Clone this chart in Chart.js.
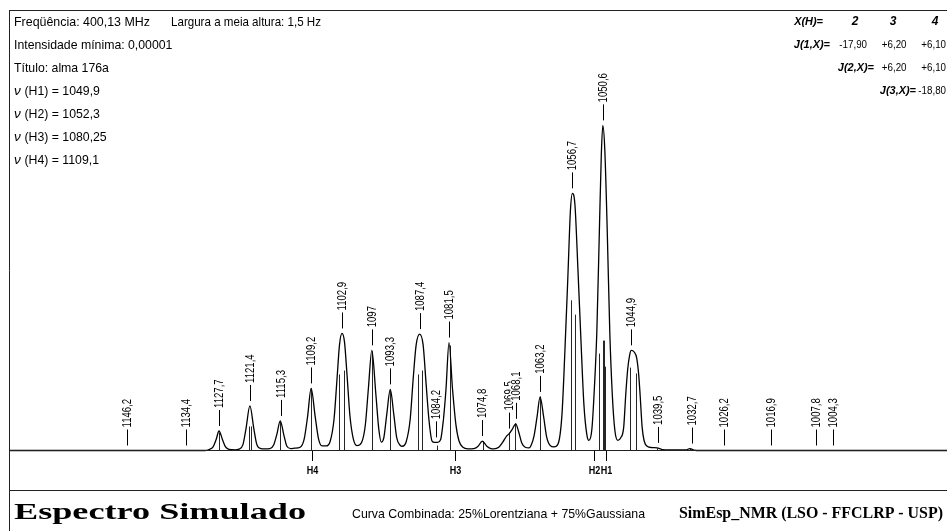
<!DOCTYPE html>
<html>
<head>
<meta charset="utf-8">
<script src="https://cdn.jsdelivr.net/npm/chart.js@4/dist/chart.umd.min.js"></script>
<style>
html, body { margin: 0; padding: 0; background: #fff; }
canvas { display: block; }
</style>
</head>
<body>
<canvas id="c" width="947" height="531"></canvas>
<script>
// simulated spectrum: frequency (Hz) / relative intensity (tallest = 100)
var curveHz = [1169.9, 1130.5, 1129.7, 1128.9, 1128.3, 1127.7, 1127.0, 1126.4, 1125.7, 1124.5,
  1123.7, 1122.9, 1122.3, 1121.5, 1120.7, 1120.1, 1119.3, 1118.5, 1117.5, 1116.7,
  1116.1, 1115.4, 1114.7, 1114.1, 1113.3, 1112.5, 1111.4, 1110.6, 1109.9, 1109.2,
  1108.4, 1107.7, 1107.0, 1106.2, 1105.4, 1104.6, 1104.0, 1103.5, 1103.0, 1102.5,
  1102.0, 1101.4, 1100.7, 1100.0, 1099.0, 1098.3, 1097.7, 1097.0, 1096.2, 1095.6,
  1095.1, 1094.6, 1094.0, 1093.3, 1092.6, 1092.0, 1091.3, 1090.9, 1090.1, 1089.3,
  1088.7, 1088.1, 1087.4, 1086.7, 1086.1, 1085.5, 1084.9, 1084.4, 1083.8, 1083.2,
  1082.6, 1082.1, 1081.5, 1080.8, 1080.1, 1079.5, 1078.7, 1077.7, 1076.5, 1075.7,
  1074.8, 1073.9, 1073.1, 1072.5, 1071.5, 1070.7, 1069.9, 1069.4, 1068.8, 1068.1,
  1067.5, 1066.9, 1066.2, 1065.4, 1065.0, 1064.4, 1063.8, 1063.2, 1062.5, 1061.9,
  1061.2, 1060.4, 1059.6, 1058.8, 1058.2, 1057.6, 1057.1, 1056.7, 1056.2, 1055.6,
  1055.0, 1054.4, 1053.8, 1053.4, 1052.8, 1052.3, 1051.8, 1051.3, 1050.9, 1050.6,
  1050.2, 1049.7, 1049.2, 1048.7, 1048.2, 1047.6, 1047.0, 1046.4, 1046.0, 1045.6,
  1045.2, 1044.9, 1044.3, 1043.8, 1043.4, 1043.1, 1042.7, 1042.3, 1041.7, 1040.7,
  1039.7, 1038.7, 1037.1, 1033.9, 1033.1, 1032.3, 1031.1, 981.45];
var curveInt = [0, 0, 0.3, 1.1, 3.3, 6.0, 3.3, 1.1, 0.35, 0.2,
  0.4, 1.8, 6.6, 13.7, 6.6, 1.8, 0.6, 0.5, 0.6, 1.8,
  4.9, 9.1, 4.9, 1.4, 0.6, 0.7, 1.0, 3.5, 10.6, 19.1,
  10.6, 3.5, 1.4, 1.4, 2.7, 9.6, 22.0, 32.5, 36.0, 33.4,
  23.5, 10.6, 3.4, 1.5, 2.7, 8.0, 19.0, 30.8, 17.4, 6.5,
  2.6, 3.9, 11.2, 18.8, 11.2, 3.9, 1.6, 1.3, 2.7, 9.6,
  22.0, 32.5, 35.8, 32.5, 20.5, 9.0, 2.9, 2.5, 2.5, 3.3,
  9.9, 19.0, 33.2, 19.0, 7.8, 3.0, 1.0, 0.5, 0.6, 1.2,
  2.9, 1.3, 0.6, 0.5, 1.0, 2.6, 4.5, 5.2, 6.5, 8.2,
  5.7, 2.4, 1.0, 0.8, 1.6, 4.6, 10.5, 16.5, 10.5, 4.3,
  1.6, 1.1, 2.0, 11.2, 31.2, 54.2, 74.0, 79.1, 75.6, 55.8,
  34.2, 14.2, 4.8, 3.1, 6.5, 19.0, 36.5, 67.0, 91.0, 100,
  92.5, 67.0, 36.5, 17.4, 6.5, 3.1, 3.9, 7.2, 17.0, 25.0,
  29.4, 30.8, 30.3, 28.5, 23.5, 17.0, 7.2, 3.0, 1.3, 0.9,
  0.8, 0.3, 0.15, 0.15, 0.6, 0.15, 0, 0];

// individual transitions (stick spectrum)
var stickHz = [1127.7, 1121.6, 1121.3, 1115.4, 1109.2, 1103.6, 1102.6, 1097.0, 1093.3, 1087.7,
  1086.9, 1084.0, 1081.4, 1074.7, 1069.4, 1068.2, 1063.2, 1056.9, 1056.2, 1051.4,
  1050.6, 1050.4, 1050.1, 1045.1, 1043.9, 1039.7, 1033.1];
var stickInt = [5.5, 7.4, 7.4, 8.9, 19.1, 23.4, 24.6, 30.5, 18.5, 23.4,
  24.6, 1.5, 32.3, 2.8, 5.5, 8.3, 16.6, 46.2, 41.8, 29.8,
  33.8, 33.8, 25.8, 25.5, 23.7, 0.6, 0.6];

// peak labels and the intensity they sit on
var labelHz = [1146.2, 1134.4, 1127.7, 1121.4, 1115.3, 1109.2, 1102.9, 1097, 1093.3, 1087.4,
  1084.2, 1081.5, 1074.8, 1069.5, 1068.1, 1063.2, 1056.7, 1050.6, 1044.9, 1039.5,
  1032.7, 1026.2, 1016.9, 1007.8, 1004.3];
var labelBase = [0, 0, 6.0, 13.7, 9.1, 19.1, 36.0, 30.8, 18.8, 35.8,
  2.5, 33.2, 2.9, 5.2, 8.2, 16.5, 79.1, 100, 30.8, 0.8,
  0.6, 0, 0, 0, 0];

// chemical shifts of the protons
var markText = ['H1', 'H2', 'H3', 'H4'];
var markHz = [1049.9, 1052.3, 1080.25, 1109.1];

// coupling constants table
var jHeader = ['2', '3', '4'];
var jRows = [['-17,90', '+6,20', '+6,10'], ['+6,20', '+6,10'], ['-18,80']];

var infoLines = ['Intensidade mínima: 0,00001', 'Título: alma 176a'];

var sans = '"Liberation Sans", Arial, sans-serif';
var serif = '"Liberation Serif", "Times New Roman", serif';

function comma(v) { return String(v).replace('.', ','); }

function txt(ctx, s, x, y, font, sx, align) {
  ctx.save();
  ctx.font = font;
  ctx.textAlign = align || 'left';
  ctx.textBaseline = 'alphabetic';
  ctx.translate(x, y);
  ctx.scale(sx, 1);
  ctx.fillText(s, 0, 0);
  ctx.restore();
}

function fitTxt(ctx, s, x, y, font, w) {
  ctx.save();
  ctx.font = font;
  var m = ctx.measureText(s).width;
  ctx.restore();
  txt(ctx, s, x, y, font, w / m);
}

var decor = {
  id: 'decor',
  afterDatasetsDraw: function(chart) {
    var ctx = chart.ctx;
    var xs = chart.scales.x, ys = chart.scales.y;
    var i, x, y;
    ctx.save();
    ctx.fillStyle = '#000';

    // sticks
    ctx.strokeStyle = 'rgba(0,0,0,0.85)';
    ctx.lineWidth = 1;
    for (i = 0; i < stickHz.length; i++) {
      x = Math.round(xs.getPixelForValue(stickHz[i])) + 0.5;
      ctx.beginPath();
      ctx.moveTo(x, ys.getPixelForValue(0));
      ctx.lineTo(x, ys.getPixelForValue(stickInt[i]));
      ctx.stroke();
    }

    // frame
    ctx.strokeStyle = '#222';
    ctx.beginPath();
    ctx.moveTo(9, 10.5); ctx.lineTo(947, 10.5);
    ctx.moveTo(9.5, 10); ctx.lineTo(9.5, 531);
    ctx.moveTo(9, 450.5); ctx.lineTo(947, 450.5);
    ctx.moveTo(9, 490.5); ctx.lineTo(947, 490.5);
    ctx.stroke();

    // peak labels
    var lf = '12px ' + sans;
    for (i = 0; i < labelHz.length; i++) {
      x = Math.round(xs.getPixelForValue(labelHz[i])) + 0.5;
      y = ys.getPixelForValue(labelBase[i]) - 5;
      ctx.strokeStyle = '#000';
      ctx.beginPath();
      ctx.moveTo(x, y); ctx.lineTo(x, y - 16);
      ctx.stroke();
      var s = comma(labelHz[i]);
      ctx.save();
      ctx.font = lf;
      ctx.translate(x, y - 18);
      ctx.rotate(-Math.PI / 2);
      ctx.scale(0.8, 1);
      var w = ctx.measureText(s).width;
      ctx.fillStyle = '#fff';
      ctx.fillRect(-1, -6, w + 2, 12);
      ctx.fillStyle = '#000';
      ctx.textBaseline = 'middle';
      ctx.fillText(s, 0, 0.5);
      ctx.restore();
    }

    // proton marks under the baseline
    for (i = 0; i < markHz.length; i++) {
      x = Math.round(xs.getPixelForValue(markHz[i])) + 0.5;
      ctx.strokeStyle = '#000';
      ctx.beginPath();
      ctx.moveTo(x, 451); ctx.lineTo(x, 461);
      ctx.stroke();
      ctx.save();
      ctx.font = 'bold 10px ' + sans;
      ctx.translate(x, 474);
      ctx.scale(0.9, 1);
      var mw = ctx.measureText(markText[i]).width;
      ctx.fillStyle = '#fff';
      ctx.fillRect(-mw / 2, -8, mw, 9);
      ctx.fillStyle = '#000';
      ctx.textAlign = 'center';
      ctx.fillText(markText[i], 0, 0);
      ctx.restore();
    }

    // header text, left
    var hf = '13.5px ' + sans;
    fitTxt(ctx, 'Freqüência: 400,13 MHz', 14, 25.5, hf, 136);
    fitTxt(ctx, 'Largura a meia altura: 1,5 Hz', 171, 25.5, hf, 150);
    for (i = 0; i < infoLines.length; i++) {
      txt(ctx, infoLines[i], 14, 48.5 + i * 23, hf, 0.91);
    }
    for (i = 0; i < markHz.length; i++) {
      y = 94.5 + i * 23;
      txt(ctx, 'ν', 14, y, 'italic 13.5px ' + sans, 1);
      txt(ctx, ' (' + markText[i] + ') = ' + comma(markHz[i]), 21, y, hf, 0.91);
    }

    // coupling table, right
    var bf = 'bold italic 11.5px ' + sans;
    var vf = '11.5px ' + sans;
    var colR = [867, 906.5, 946];
    var colC = [855, 893, 935];
    txt(ctx, 'X(H)=', 823, 24.5, bf, 0.95, 'right');
    for (i = 0; i < jHeader.length; i++) {
      txt(ctx, jHeader[i], colC[i], 24.5, 'bold italic 12px ' + sans, 1, 'center');
    }
    var labR = [830, 874, 916];
    for (var r = 0; r < jRows.length; r++) {
      y = 47.5 + r * 23.3;
      txt(ctx, 'J(' + (r + 1) + ',X)=', labR[r], y, bf, 0.95, 'right');
      for (var c = 0; c < jRows[r].length; c++) {
        txt(ctx, jRows[r][c], colR[c + r], y, vf, 0.85, 'right');
      }
    }

    // footer
    fitTxt(ctx, 'Espectro Simulado', 14, 519, 'bold 23px ' + serif, 292);
    fitTxt(ctx, 'Curva Combinada: 25%Lorentziana + 75%Gaussiana', 352, 518, '13.5px ' + sans, 293);
    fitTxt(ctx, 'SimEsp_NMR (LSO - FFCLRP - USP)', 679, 518, 'bold 17px ' + serif, 264);

    ctx.restore();
  }
};

var curvePts = curveHz.map(function(f, i) { return { x: f, y: curveInt[i] }; });

new Chart(document.getElementById('c'), {
  type: 'line',
  data: {
    datasets: [{
      data: curvePts,
      borderColor: '#000',
      borderWidth: 1.3,
      pointRadius: 0,
      fill: false,
      cubicInterpolationMode: 'monotone',
      clip: false
    }]
  },
  options: {
    responsive: false,
    animation: false,
    events: [],
    layout: { padding: { left: 9, right: 0, top: 10, bottom: 80.5 } },
    plugins: { legend: { display: false }, tooltip: { enabled: false } },
    scales: {
      x: { type: 'linear', reverse: true, min: 981.45, max: 1169.9, display: false },
      y: { min: 0, max: 135.5, display: false }
    }
  },
  plugins: [decor]
});
</script>
</body>
</html>
